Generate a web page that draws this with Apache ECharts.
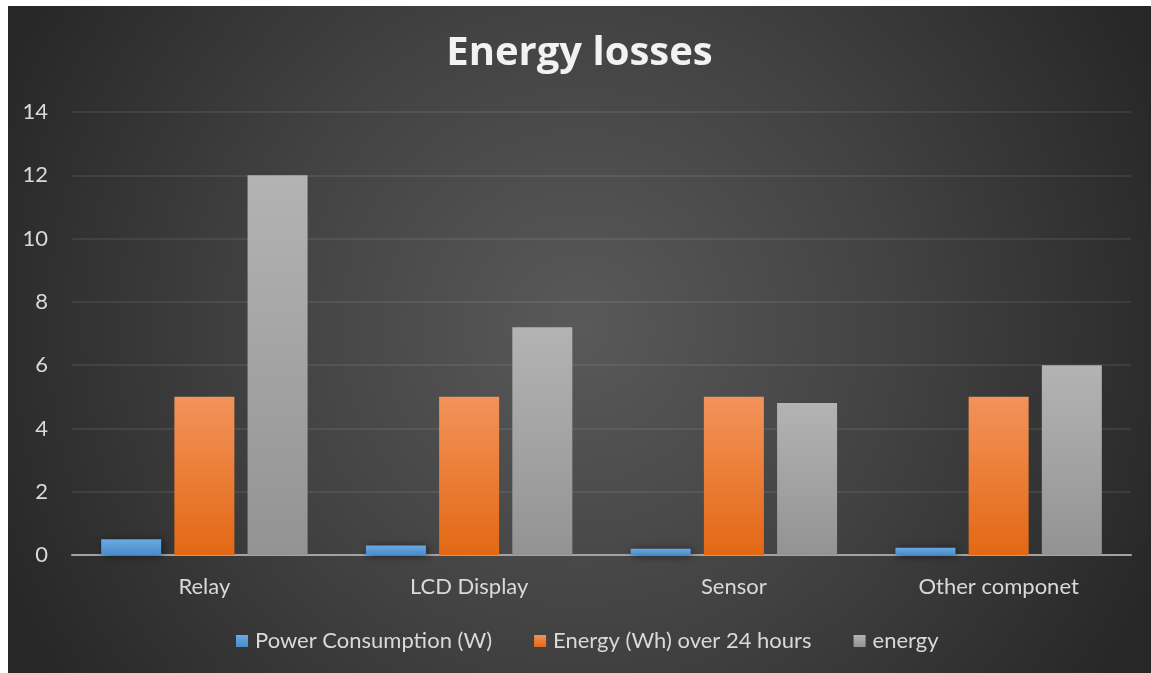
<!DOCTYPE html>
<html>
<head>
<meta charset="utf-8">
<script src="https://cdn.jsdelivr.net/npm/echarts@6/dist/echarts.min.js"></script>
<style>
  html, body { margin: 0; padding: 0; background: #ffffff; }
  #chart { position: absolute; left: 8px; top: 6px; width: 1143px; height: 667px; }
</style>
</head>
<body>
<div id="chart"></div>
<script>
// Component names along the x axis
const categories = ['Relay', 'LCD Display', 'Sensor', 'Other componet'];

// Series values
const powerW = [0.5, 0.3, 0.2, 0.23];
const energyWh24 = [5, 5, 5, 5];
const energy = [12, 7.2, 4.8, 6];

const seriesNames = ['Power Consumption (W)', 'Energy (Wh) over 24 hours', 'energy'];

const FONT = 'Lato, "Open Sans", sans-serif';

function vGrad(top, bottom) {
  return new echarts.graphic.LinearGradient(0, 0, 0, 1, [
    { offset: 0, color: top },
    { offset: 1, color: bottom }
  ]);
}

const barShadow = {
  shadowBlur: 8,
  shadowColor: 'rgba(0,0,0,0.55)',
  shadowOffsetX: 2,
  shadowOffsetY: 1
};

const chart = echarts.init(document.getElementById('chart'));
chart.setOption({
  backgroundColor: {
    type: 'radial', x: 0.5, y: 0.48, r: 0.95,
    colorStops: [
      { offset: 0, color: '#595959' },
      { offset: 0.5, color: '#424242' },
      { offset: 1, color: '#272727' }
    ]
  },
  title: {
    text: 'Energy losses',
    left: 'center',
    top: 23,
    textStyle: { color: '#f2f2f2', fontFamily: '"Open Sans", sans-serif', fontWeight: 'bold', fontSize: 40 }
  },
  legend: {
    data: seriesNames,
    left: 223,
    top: 619,
    itemWidth: 12,
    itemHeight: 12,
    itemGap: 42,
    icon: 'rect',
    textStyle: { color: '#d9d9d9', fontFamily: FONT, fontSize: 22, padding: [0, 0, 0, 2] }
  },
  grid: { left: 64, right: 20, top: 106, bottom: 118, containLabel: false },
  xAxis: {
    type: 'category',
    data: categories,
    axisTick: { show: false },
    axisLine: { lineStyle: { color: '#a3a3a3', width: 2 } },
    axisLabel: { color: '#d9d9d9', fontFamily: FONT, fontSize: 22, margin: 21 }
  },
  yAxis: {
    type: 'value',
    min: 0, max: 14, interval: 2,
    axisLine: { show: false },
    axisTick: { show: false },
    axisLabel: { color: '#d9d9d9', fontFamily: FONT, fontSize: 22, margin: 24 },
    splitLine: { lineStyle: { color: 'rgba(255,255,255,0.1)', width: 1.5 } }
  },
  series: [
    {
      name: seriesNames[0], type: 'bar', data: powerW,
      barWidth: 60, barGap: '22%',
      itemStyle: Object.assign({ color: vGrad('#6aaae2', '#4a8bcc') }, barShadow)
    },
    {
      name: seriesNames[1], type: 'bar', data: energyWh24,
      barWidth: 60, barGap: '22%',
      itemStyle: Object.assign({ color: vGrad('#f2935a', '#e36814') }, barShadow)
    },
    {
      name: seriesNames[2], type: 'bar', data: energy,
      barWidth: 60, barGap: '22%',
      itemStyle: Object.assign({ color: vGrad('#b3b3b3', '#939393') }, barShadow)
    }
  ]
});
</script>
</body>
</html>
